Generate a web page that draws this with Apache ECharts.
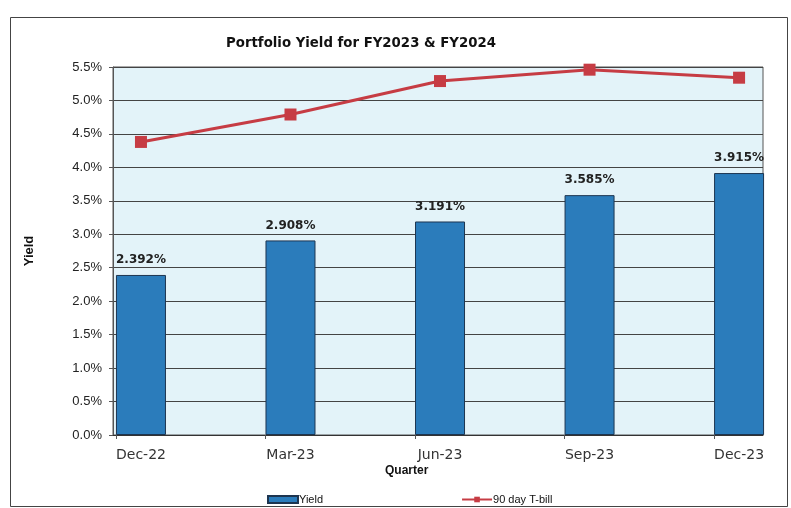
<!DOCTYPE html>
<html>
<head>
<meta charset="utf-8">
<script src="https://cdn.jsdelivr.net/npm/echarts@6/dist/echarts.min.js"></script>
<style>html,body{margin:0;padding:0;background:#fff}#c{width:791px;height:508px}</style>
</head>
<body>
<div id="c"></div>
<script>
const categories = ['Dec-22', 'Mar-23', 'Jun-23', 'Sep-23', 'Dec-23'];
const yieldValues = [2.392, 2.908, 3.191, 3.585, 3.915];
const tbillValues = [4.38, 4.79, 5.29, 5.46, 5.34];
const yTicks = [0, 0.5, 1, 1.5, 2, 2.5, 3, 3.5, 4, 4.5, 5, 5.5];

const chart = echarts.init(document.getElementById('c'), null, {renderer: 'canvas'});
const barData = yieldValues.map((v, i) => [i, v]);
const lineData = tbillValues.map((v, i) => [i, v]);

chart.setOption({
  backgroundColor: '#ffffff',
  animation: false,
  title: {
    text: 'Portfolio Yield for FY2023 & FY2024',
    left: 356, top: 32, textAlign: 'center',
    textStyle: {fontFamily: 'DejaVu Sans', fontWeight: 'bold', fontSize: 13.3, color: '#111'}
  },
  graphic: [
    {type: 'rect', left: 8, top: 15, shape: {width: 777, height: 489}, style: {fill: 'none', stroke: '#444', lineWidth: 1}, z: -10},
    {type: 'text', left: 385, top: 465, style: {text: 'Quarter', fontFamily: 'Liberation Sans', fontWeight: 'bold', fontSize: 12, fill: '#111'}}
  ],
  grid: {
    left: 113, right: 28, top: 67, bottom: 73,
    show: true, backgroundColor: '#e3f3f9', borderColor: '#555', borderWidth: 1
  },
  legend: {
    left: 262, top: 489, itemGap: 138, itemWidth: 30, itemHeight: 7,
    textStyle: {fontFamily: 'Liberation Sans', fontSize: 11, color: '#111', padding: [0,0,0,-4]},
    data: [{name: 'Yield', icon: 'rect'}, {name: '90 day T-bill'}]
  },
  xAxis: {
    type: 'value', min: -0.187, max: 4.16,
    axisLine: {show: true, onZero: false, lineStyle: {color: '#333', width: 1}},
    splitLine: {show: false},
    axisTick: {show: true, length: 4, lineStyle: {color: '#555'}, customValues: [0, 1, 2, 3, 4].map(i => i - 0.167)},
    axisLabel: {
      customValues: [0, 1, 2, 3, 4],
      formatter: v => categories[Math.round(v)],
      margin: 13, fontFamily: 'DejaVu Sans', fontSize: 14, color: '#333'
    }
  },
  yAxis: {
    type: 'value', min: 0, max: 5.5, interval: 0.5,
    name: 'Yield', nameLocation: 'middle', nameGap: 77, nameRotate: 90,
    nameTextStyle: {fontFamily: 'Liberation Sans', fontWeight: 'bold', fontSize: 13, color: '#111'},
    axisLine: {show: true, onZero: false, lineStyle: {color: '#555'}},
    axisTick: {show: true, length: 4, lineStyle: {color: '#555'}},
    splitLine: {show: true, lineStyle: {color: '#444', width: 1}},
    axisLabel: {
      customValues: yTicks,
      formatter: v => v.toFixed(1) + '%', margin: 11,
      fontFamily: 'Liberation Sans', fontSize: 13, color: '#222'
    }
  },
  series: [
    {
      name: 'Yield', type: 'bar', data: barData, barWidth: 50,
      itemStyle: {color: '#2b7cbb', borderColor: '#1d3550', borderWidth: 1},
      label: {
        show: true, position: 'top', distance: 9,
        formatter: p => p.value[1].toFixed(3) + '%',
        fontFamily: 'DejaVu Sans', fontWeight: 'bold', fontSize: 12, color: '#222'
      }
    },
    {
      name: '90 day T-bill', type: 'line', data: lineData,
      symbol: 'rect', symbolSize: 12, clip: false,
      lineStyle: {color: '#c63c44', width: 3},
      itemStyle: {color: '#c63c44'}
    }
  ]
});
</script>
</body>
</html>
